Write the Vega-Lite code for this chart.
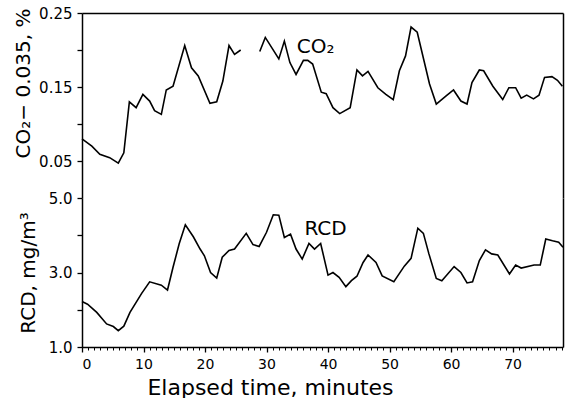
{
  "$schema": "https://vega.github.io/schema/vega-lite/v6.json",
  "padding": {"left": 13, "top": 6, "right": 0, "bottom": 0},
  "background": "white",
  "bounds": "flush",
  "datasets": {
    "co2": [
      {"t":0,"v":0.080},{"t":1.6,"v":0.070},{"t":2.9,"v":0.059},{"t":4.5,"v":0.0545},{"t":5.9,"v":0.047},{"t":6.8,"v":0.061},{"t":7.7,"v":0.130},{"t":8.8,"v":0.122},{"t":9.9,"v":0.140},{"t":11.0,"v":0.131},{"t":11.8,"v":0.118},{"t":12.9,"v":0.113},{"t":13.7,"v":0.146},{"t":14.8,"v":0.151},{"t":16.7,"v":0.206},{"t":17.8,"v":0.176},{"t":18.9,"v":0.165},{"t":20.8,"v":0.128},{"t":21.9,"v":0.130},{"t":22.9,"v":0.158},{"t":23.9,"v":0.206},{"t":24.8,"v":0.194},{"t":25.8,"v":0.200},{"t":27.3,"v":null},{"t":28.9,"v":0.198},{"t":29.8,"v":0.217},{"t":32.0,"v":0.188},{"t":32.9,"v":0.212},{"t":33.8,"v":0.183},{"t":34.8,"v":0.167},{"t":36.0,"v":0.186},{"t":36.7,"v":0.186},{"t":37.5,"v":0.181},{"t":38.9,"v":0.143},{"t":39.7,"v":0.141},{"t":40.8,"v":0.122},{"t":41.9,"v":0.114},{"t":43.6,"v":0.122},{"t":44.7,"v":0.173},{"t":45.6,"v":0.165},{"t":46.5,"v":0.171},{"t":48.1,"v":0.149},{"t":49.4,"v":0.140},{"t":50.6,"v":0.133},{"t":51.6,"v":0.172},{"t":52.6,"v":0.192},{"t":53.5,"v":0.231},{"t":54.5,"v":0.224},{"t":56.5,"v":0.154},{"t":57.6,"v":0.127},{"t":59.2,"v":0.138},{"t":60.4,"v":0.146},{"t":61.6,"v":0.131},{"t":62.6,"v":0.127},{"t":63.4,"v":0.156},{"t":64.6,"v":0.173},{"t":65.3,"v":0.172},{"t":66.8,"v":0.151},{"t":68.4,"v":0.133},{"t":69.4,"v":0.149},{"t":70.5,"v":0.149},{"t":71.4,"v":0.135},{"t":72.3,"v":0.139},{"t":73.4,"v":0.134},{"t":74.3,"v":0.139},{"t":75.2,"v":0.163},{"t":76.4,"v":0.164},{"t":77.3,"v":0.159},{"t":78.1,"v":0.151}
    ],
    "rcd": [
      {"t":0,"v":2.22},{"t":0.9,"v":2.15},{"t":2.4,"v":1.93},{"t":4.0,"v":1.62},{"t":5.1,"v":1.55},{"t":5.9,"v":1.44},{"t":6.8,"v":1.56},{"t":7.8,"v":1.93},{"t":9.7,"v":2.44},{"t":11.0,"v":2.75},{"t":12.9,"v":2.66},{"t":13.9,"v":2.53},{"t":14.8,"v":3.14},{"t":15.8,"v":3.77},{"t":16.8,"v":4.28},{"t":18.1,"v":3.96},{"t":19.2,"v":3.63},{"t":19.9,"v":3.45},{"t":20.9,"v":3.0},{"t":21.9,"v":2.85},{"t":22.8,"v":3.41},{"t":23.9,"v":3.59},{"t":24.8,"v":3.63},{"t":26.7,"v":4.05},{"t":27.8,"v":3.75},{"t":28.8,"v":3.70},{"t":30.0,"v":4.08},{"t":31.1,"v":4.55},{"t":32.0,"v":4.54},{"t":32.9,"v":3.94},{"t":33.9,"v":4.03},{"t":34.8,"v":3.63},{"t":35.8,"v":3.36},{"t":36.9,"v":3.78},{"t":37.8,"v":3.63},{"t":38.8,"v":3.78},{"t":40.0,"v":2.93},{"t":40.8,"v":3.0},{"t":41.8,"v":2.87},{"t":42.9,"v":2.62},{"t":43.8,"v":2.78},{"t":44.7,"v":2.90},{"t":45.7,"v":3.27},{"t":46.5,"v":3.47},{"t":47.8,"v":3.27},{"t":48.8,"v":2.91},{"t":50.7,"v":2.75},{"t":52.4,"v":3.17},{"t":53.5,"v":3.38},{"t":54.6,"v":4.19},{"t":55.5,"v":4.05},{"t":56.4,"v":3.50},{"t":57.6,"v":2.84},{"t":58.5,"v":2.78},{"t":60.5,"v":3.16},{"t":61.6,"v":3.0},{"t":62.6,"v":2.72},{"t":63.5,"v":2.75},{"t":64.6,"v":3.32},{"t":65.6,"v":3.61},{"t":66.6,"v":3.50},{"t":67.6,"v":3.47},{"t":69.5,"v":2.96},{"t":70.5,"v":3.20},{"t":71.4,"v":3.12},{"t":73.5,"v":3.20},{"t":74.5,"v":3.20},{"t":75.4,"v":3.90},{"t":76.5,"v":3.85},{"t":77.5,"v":3.81},{"t":78.2,"v":3.68}
    ],
    "co2lab": [{"t":38.0,"v":0.204,"label":"CO₂"}],
    "rcdlab": [{"t":39.6,"v":4.18,"label":"RCD"}]
  },
  "spacing": 0,
  "vconcat": [
    {
      "width": 481,
      "height": 185,
      "layer": [
        {
          "data": {"name": "co2"},
          "mark": {"type": "line", "color": "black", "strokeWidth": 1.6, "invalid": "break-paths-show-domains"},
          "encoding": {
            "x": {"field": "t", "type": "quantitative", "scale": {"domain": [0, 78.2], "nice": false, "zero": false},
                  "axis": {"orient": "top", "labels": false, "ticks": false, "title": null, "grid": false, "domain": true}},
            "y": {"field": "v", "type": "quantitative", "scale": {"domain": [0, 0.25], "nice": false},
                  "axis": {"orient": "left", "values": [0.05, 0.1, 0.15, 0.2, 0.25], "tickSize": 5,
                           "labelExpr": "round(datum.value*100) % 10 == 5 ? format(datum.value, '.2f') : ''",
                           "title": "CO₂− 0.035, %", "titleY": 70, "titleFontSize": 20, "titlePadding": 5, "grid": false}}
          }
        },
        {
          "data": {"name": "co2lab"},
          "mark": {"type": "text", "fontSize": 20, "font": "DejaVu Sans", "color": "black"},
          "encoding": {
            "x": {"field": "t", "type": "quantitative", "axis": {"orient": "top", "labels": false, "ticks": false, "title": null, "grid": false, "domain": true}},
            "y": {"field": "v", "type": "quantitative", "axis": {"orient": "right", "labels": false, "ticks": false, "title": null, "grid": false, "domain": true}},
            "text": {"field": "label"}
          }
        }
      ],
      "resolve": {"axis": {"y": "independent"}}
    },
    {
      "width": 481,
      "height": 149,
      "layer": [
        {
          "data": {"name": "rcd"},
          "mark": {"type": "line", "color": "black", "strokeWidth": 1.6},
          "encoding": {
            "x": {"field": "t", "type": "quantitative", "scale": {"domain": [0, 78.2], "nice": false, "zero": false},
                  "axis": {"orient": "bottom", "values": [0, 10, 20, 30, 40, 50, 60, 70], "tickSize": 5, "labelPadding": 5, "labelFontSize": 14,
                           "title": "Elapsed time, minutes", "titleFontSize": 22, "titleX": 188, "titlePadding": 6, "grid": false}},
            "y": {"field": "v", "type": "quantitative", "scale": {"domain": [1, 5], "nice": false, "zero": false},
                  "axis": {"orient": "left", "values": [1, 2, 3, 4, 5], "tickSize": 5,
                           "labelExpr": "datum.value % 2 == 1 ? format(datum.value, '.1f') : ''",
                           "title": "RCD, mg/m³", "titleFontSize": 20, "titlePadding": 10, "grid": false}}
          }
        },
        {
          "data": {"name": "rcdlab"},
          "mark": {"type": "text", "fontSize": 20, "font": "DejaVu Sans", "color": "black"},
          "encoding": {
            "x": {"field": "t", "type": "quantitative",
                  "axis": {"orient": "bottom", "values": [0,1,2,3,4,5,6,7,8,9,10,11,12,13,14,15,16,17,18,19,20,21,22,23,24,25,26,27,28,29,30,31,32,33,34,35,36,37,38,39,40,41,42,43,44,45,46,47,48,49,50,51,52,53,54,55,56,57,58,59,60,61,62,63,64,65,66,67,68,69,70,71,72,73,74,75,76,77,78],
                           "labels": false, "tickSize": 3, "tickWidth": 1, "domain": false, "title": null, "grid": false}},
            "y": {"field": "v", "type": "quantitative", "axis": {"orient": "right", "labels": false, "ticks": false, "title": null, "grid": false, "domain": true}},
            "text": {"field": "label"}
          }
        }
      ],
      "resolve": {"axis": {"x": "independent", "y": "independent"}}
    }
  ],
  "config": {
    "view": {"stroke": null},
    "font": "DejaVu Sans",
    "axis": {
      "labelFont": "DejaVu Sans", "titleFont": "DejaVu Sans", "labelFontSize": 15,
      "labelColor": "black", "titleColor": "black", "titleFontWeight": "normal",
      "domainColor": "black", "domainWidth": 1.5, "tickColor": "black", "tickWidth": 1.3,
      "labelPadding": 5
    }
  }
}
